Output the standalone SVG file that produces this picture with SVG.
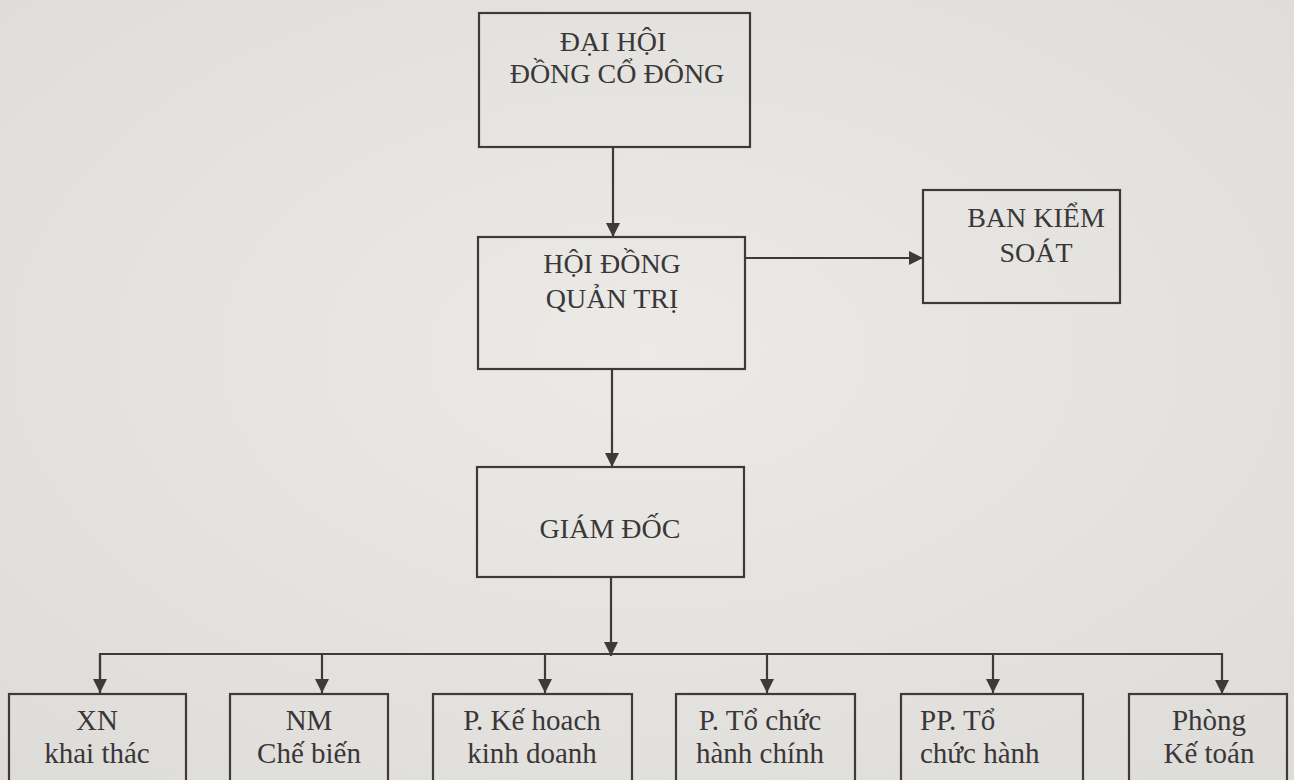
<svg xmlns="http://www.w3.org/2000/svg" width="1294" height="780" viewBox="0 0 1294 780">
<style>
.box{fill:none;stroke:#3d3a3c;stroke-width:2.2}
.t{font-family:"Liberation Serif","DejaVu Serif",serif;fill:#3a3739;text-anchor:middle}
.tl{font-family:"Liberation Serif","DejaVu Serif",serif;fill:#3a3739}
.top{font-size:28px}
.bot{font-size:29px}
.c{fill:none;stroke:#3d3a3c;stroke-width:2.2}
</style>
<defs>
<marker id="ah" markerUnits="userSpaceOnUse" markerWidth="14" markerHeight="14" viewBox="0 0 10 10" refX="10" refY="5" orient="auto">
<path d="M0,0 L10,5 L0,10 z" fill="#3d3a3c"/>
</marker>
<radialGradient id="bg" cx="0.5" cy="0.45" r="0.75">
<stop offset="0" stop-color="#ebeae7"/>
<stop offset="1" stop-color="#dedcd9"/>
</radialGradient>
</defs>
<rect width="1294" height="780" fill="url(#bg)"/>

<g id="connectors">
<line class="c" x1="613" y1="147" x2="613" y2="237" marker-end="url(#ah)"/>
<line class="c" x1="745" y1="258" x2="923" y2="258" marker-end="url(#ah)"/>
<line class="c" x1="612" y1="369" x2="612" y2="467" marker-end="url(#ah)"/>
<line class="c" x1="611" y1="577" x2="611" y2="656" marker-end="url(#ah)"/>
<polyline class="c" points="100,694 100,654 1222,654 1222,694" marker-end="url(#ah)"/>
<line class="c" x1="100" y1="654" x2="100" y2="693" marker-end="url(#ah)"/>
<line class="c" x1="322" y1="654" x2="322" y2="693" marker-end="url(#ah)"/>
<line class="c" x1="545" y1="654" x2="545" y2="693" marker-end="url(#ah)"/>
<line class="c" x1="767" y1="654" x2="767" y2="693" marker-end="url(#ah)"/>
<line class="c" x1="993" y1="654" x2="993" y2="693" marker-end="url(#ah)"/>
</g>

<g id="dai-hoi">
<rect class="box" x="479" y="13" width="271" height="134"/>
<text class="t top" x="613" y="51">ĐẠI HỘI</text>
<text class="t top" x="617" y="83">ĐỒNG CỔ ĐÔNG</text>
</g>

<g id="hoi-dong">
<rect class="box" x="478" y="237" width="267" height="132"/>
<text class="t top" x="612" y="273">HỘI ĐỒNG</text>
<text class="t top" x="612" y="308">QUẢN TRỊ</text>
</g>

<g id="ban-kiem-soat">
<rect class="box" x="923" y="190" width="197" height="113"/>
<text class="t top" x="1036" y="227">BAN KIỂM</text>
<text class="t top" x="1036" y="262">SOÁT</text>
</g>

<g id="giam-doc">
<rect class="box" x="477" y="467" width="267" height="110"/>
<text class="t top" x="610" y="538">GIÁM ĐỐC</text>
</g>

<g id="xn">
<rect class="box" x="9" y="694" width="177" height="100"/>
<text class="t bot" x="97" y="730">XN</text>
<text class="t bot" x="97" y="763">khai thác</text>
</g>

<g id="nm">
<rect class="box" x="230" y="694" width="158" height="100"/>
<text class="t bot" x="309" y="730">NM</text>
<text class="t bot" x="309" y="763">Chế biến</text>
</g>

<g id="kh">
<rect class="box" x="433" y="694" width="199" height="100"/>
<text class="t bot" x="532" y="730">P. Kế hoach</text>
<text class="t bot" x="532" y="763">kinh doanh</text>
</g>

<g id="tc">
<rect class="box" x="676" y="694" width="179" height="100"/>
<text class="t bot" x="760" y="730">P. Tổ chức</text>
<text class="t bot" x="760" y="763">hành chính</text>
</g>

<g id="pp">
<rect class="box" x="901" y="694" width="182" height="100"/>
<text class="tl bot" x="920" y="730">PP. Tổ</text>
<text class="tl bot" x="920" y="763">chức hành</text>
</g>

<g id="kt">
<rect class="box" x="1129" y="694" width="158" height="100"/>
<text class="t bot" x="1209" y="730">Phòng</text>
<text class="t bot" x="1209" y="763">Kế toán</text>
</g>
</svg>
